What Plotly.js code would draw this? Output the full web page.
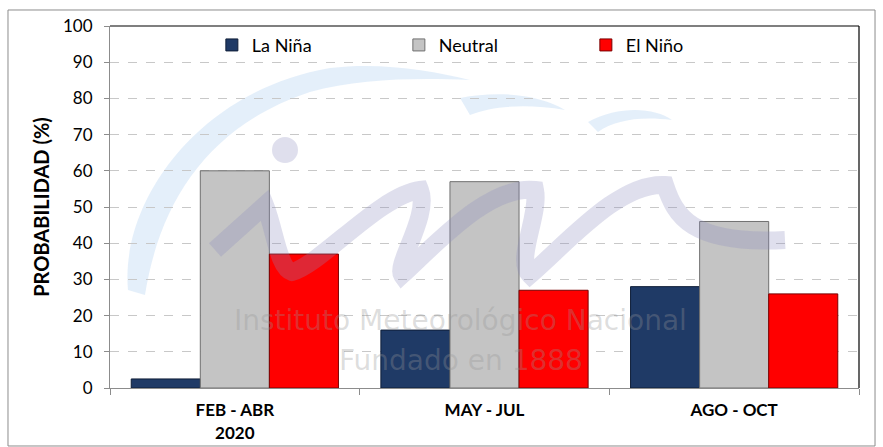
<!DOCTYPE html>
<html>
<head>
<meta charset="utf-8">
<script src="https://cdn.plot.ly/plotly-3.0.1.min.js"></script>
<style>html,body{margin:0;padding:0;background:#fff;}#chart{width:883px;height:447px;}</style>
</head>
<body>
<div id="chart"></div>
<script>
var categories = ["FEB - ABR<br>2020", "MAY - JUL", "AGO - OCT"];
var seriesNames = ["La Niña", "Neutral", "El Niño"];
var laNina = [2.5, 16, 28];
var neutral = [60, 57, 46];
var elNino = [37, 27, 26];
var yTicks = [0, 10, 20, 30, 40, 50, 60, 70, 80, 90, 100];

var FONT = "Lato, 'Open Sans', 'DejaVu Sans', sans-serif";
var WM_FONT = "'DejaVu Sans', 'Open Sans', sans-serif";

// plot-area geometry helpers for decorative watermark (pixel -> paper)
var L = 110, R = 859, T = 26, B = 388;
function px(x){ return ((x - L) / (R - L)).toFixed(4); }
function py(y){ return ((B - y) / (B - T)).toFixed(4); }
function P(x, y){ return px(x) + "," + py(y); }

var traces = [
  {type: "bar", name: seriesNames[0], x: categories, y: laNina,
   marker: {color: "#1F3A66", line: {color: "#0F1E38", width: 1}}},
  {type: "bar", name: seriesNames[1], x: categories, y: neutral,
   marker: {color: "#C4C4C4", line: {color: "#707070", width: 1}}},
  {type: "bar", name: seriesNames[2], x: categories, y: elNino,
   marker: {color: "#FF0000", line: {color: "#7A0000", width: 1}}}
];

var arcPath = "M" + P(128, 290) + " C" + P(120, 200) + " " + P(200, 90) + " " + P(330, 68) +
              " C" + P(380, 62) + " " + P(430, 70) + " " + P(470, 80) +
              " C" + P(420, 78) + " " + P(360, 78) + " " + P(310, 92) +
              " C" + P(210, 125) + " " + P(160, 200) + " " + P(145, 295) + " Z";
var arc2 = "M" + P(460, 98) + " C" + P(500, 90) + " " + P(540, 95) + " " + P(565, 110) +
           " C" + P(530, 104) + " " + P(495, 105) + " " + P(470, 115) + " Z";
var arc3 = "M" + P(588, 122) + " C" + P(620, 105) + " " + P(655, 108) + " " + P(672, 120) +
           " C" + P(640, 116) + " " + P(615, 120) + " " + P(598, 132) + " Z";
var imnPath = "M" + P(215, 250) + " L" + P(265, 205) +
              " C" + P(275, 230) + " " + P(278, 268) + " " + P(292, 272) +
              " C" + P(320, 265) + " " + P(380, 195) + " " + P(420, 190) +
              " C" + P(430, 215) + " " + P(395, 265) + " " + P(402, 275) +
              " C" + P(440, 240) + " " + P(490, 185) + " " + P(535, 190) +
              " C" + P(540, 215) + " " + P(515, 260) + " " + P(530, 275) +
              " C" + P(570, 240) + " " + P(620, 182) + " " + P(665, 185) +
              " C" + P(675, 215) + " " + P(690, 245) + " " + P(785, 240);

var layout = {
  width: 883, height: 447,
  margin: {l: L, r: 883 - R, t: T, b: 447 - B, pad: 0},
  paper_bgcolor: "#ffffff", plot_bgcolor: "rgba(0,0,0,0)",
  font: {family: FONT, size: 16, color: "#000"},
  barmode: "group", bargap: 0.17, bargroupgap: 0,
  showlegend: true,
  legend: {orientation: "h", x: 0.136, y: 0.998, xanchor: "left", yanchor: "top",
           entrywidth: 142, font: {family: FONT, size: 18, color: "#000"},
           bgcolor: "rgba(0,0,0,0)", traceorder: "normal"},
  xaxis: {type: "category", showgrid: false, showline: true, linecolor: "#8c8c8c", linewidth: 1,
          ticks: "outside", tickson: "boundaries", ticklen: 6, tickcolor: "#8c8c8c",
          ticklabelstandoff: 7,
          tickfont: {family: FONT, size: 17, color: "#000", weight: "bold"}, fixedrange: true},
  yaxis: {range: [0, 100], tickvals: yTicks, ticktext: yTicks.map(String),
          showgrid: true, gridcolor: "#c8c8c8", griddash: "dash", gridwidth: 1,
          zeroline: false, showline: true, linecolor: "#8c8c8c", linewidth: 1,
          ticks: "outside", ticklen: 5, tickcolor: "#8c8c8c", ticklabelstandoff: 8,
          tickfont: {family: FONT, size: 17, color: "#000"},
          title: {text: "PROBABILIDAD (%)", standoff: 8,
                  font: {family: FONT, size: 20, color: "#000", weight: "bold"}},
          fixedrange: true},
  shapes: [
    {type: "path", xref: "paper", yref: "paper", path: arcPath, fillcolor: "rgba(205,225,245,0.55)", line: {width: 0}, layer: "below"},
    {type: "path", xref: "paper", yref: "paper", path: arc2, fillcolor: "rgba(205,225,245,0.55)", line: {width: 0}, layer: "below"},
    {type: "path", xref: "paper", yref: "paper", path: arc3, fillcolor: "rgba(205,225,245,0.55)", line: {width: 0}, layer: "below"},
    {type: "path", xref: "paper", yref: "paper", path: imnPath, line: {color: "rgba(140,140,190,0.28)", width: 18}, layer: "above"},
    {type: "circle", xref: "paper", yref: "paper", x0: px(272), x1: px(298), y0: py(163), y1: py(137),
     fillcolor: "rgba(140,140,190,0.28)", line: {width: 0}, layer: "above"},
    {type: "line", xref: "paper", yref: "paper", x0: 0, x1: 1, y0: 1, y1: 1, line: {color: "#000", width: 1.2}},
    {type: "line", xref: "paper", yref: "paper", x0: 1, x1: 1, y0: 0, y1: 1, line: {color: "#000", width: 1.2}},
    {type: "rect", xref: "paper", yref: "paper", x0: px(8), x1: px(875), y0: py(446), y1: py(10),
     line: {color: "#8c8c8c", width: 1}, fillcolor: "rgba(0,0,0,0)", layer: "below"}
  ],
  annotations: [
    {xref: "paper", yref: "paper", x: px(461), y: py(321), xanchor: "center", yanchor: "middle",
     text: "Instituto Meteorológico Nacional",
     showarrow: false, font: {family: WM_FONT, size: 28, color: "rgba(150,150,150,0.33)"}},
    {xref: "paper", yref: "paper", x: px(461), y: py(360), xanchor: "center", yanchor: "middle",
     text: "Fundado en 1888",
     showarrow: false, font: {family: WM_FONT, size: 28, color: "rgba(150,150,150,0.33)"}}
  ]
};

Plotly.newPlot("chart", traces, layout, {displayModeBar: false, staticPlot: true});
</script>
</body>
</html>
